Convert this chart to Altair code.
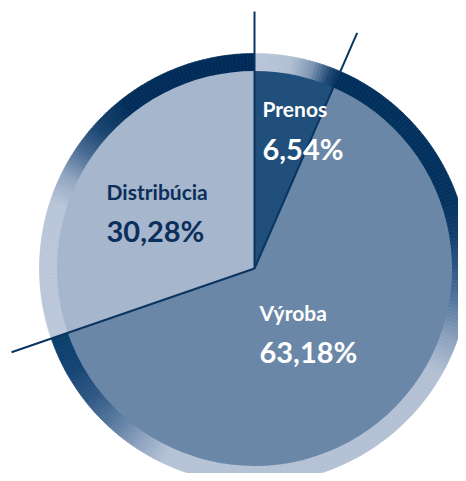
import math
import altair as alt
import pandas as pd

# ---- data ----
categories = ["Prenos", "Výroba", "Distribúcia"]
shares = [6.54, 63.18, 30.28]
value_labels = ["6,54%", "63,18%", "30,28%"]
order = [1, 2, 3]

# ---- styles ----
slice_colors = ["#1f4f7a", "#6a87a8", "#a6b6cc"]
text_colors = ["#ffffff", "#ffffff", "#0b2f5a"]
line_color = "#0a3560"

# ring colour stops (angle in degrees, clockwise from 12 o'clock)
ring_stop_deg = [0, 10, 16, 21, 23.4,
                 23.7, 70, 80, 90, 100, 110, 120, 205, 213, 222, 232, 242, 250.8,
                 251.2, 288, 296, 304, 312, 322, 360]
ring_stop_col = ["#bac6d9", "#b3c0d4", "#8097b5", "#1f4a76", "#0a3560",
                 "#002f5c", "#03325f", "#123e6b", "#2d5783", "#587aa0", "#8ea3bf", "#b3c0d4",
                 "#b6c3d6", "#90a5c0", "#5b7ca1", "#2d5783", "#134373", "#0a3f6c",
                 "#bcc8da", "#b9c5d8", "#92a7c1", "#4b6d96", "#1a4570", "#022d5a", "#002a57"]

W, H = 450, 465
CX, CY = 246.5, 260.5
R_PIE = 197.5
R_RING_IN, R_RING_OUT = 196, 215
R_LINE = 257

df = pd.DataFrame({"cat": categories, "share": shares, "lab": value_labels,
                   "order": order})

# ring segments aligned with the slice boundaries
bounds = [0]
for s in shares:
    bounds.append(bounds[-1] + s)
seg_rows = []
for i in range(len(shares)):
    a0 = bounds[i] * 3.6
    a1 = bounds[i + 1] * 3.6
    n = max(1, int(math.ceil((a1 - a0) / 1.0)))
    step = (a1 - a0) / n
    for k in range(n):
        s0 = a0 + k * step
        seg_rows.append({"a0": s0, "a1": s0 + step, "mid": s0 + step / 2})
ring_df = pd.DataFrame(seg_rows)

deg_scale = alt.Scale(domain=[0, 360])
ring_color_scale = alt.Scale(domain=ring_stop_deg, range=ring_stop_col, interpolate="rgb")

ring = alt.Chart(ring_df).mark_arc(radius=R_RING_OUT, radius2=R_RING_IN, strokeWidth=0.7).encode(
    theta=alt.Theta("a0:Q", scale=deg_scale, stack=False),
    theta2="a1:Q",
    color=alt.Color("mid:Q", scale=ring_color_scale, legend=None),
    stroke=alt.Stroke("mid:Q", scale=ring_color_scale, legend=None),
    x=alt.value(CX), y=alt.value(CY),
)

pie = alt.Chart(df).mark_arc(radius=R_PIE).encode(
    theta=alt.Theta("share:Q", stack=True),
    order=alt.Order("order:Q"),
    color=alt.Color("cat:N", scale=alt.Scale(domain=categories, range=slice_colors), legend=None),
    x=alt.value(CX), y=alt.value(CY),
)

pct_scale = alt.Scale(domain=[0, 100])

lines = alt.Chart(df).transform_window(
    cum="sum(share)", sort=[alt.SortField("order")]
).mark_arc(radius=R_LINE, radius2=0, fillOpacity=0, stroke=line_color, strokeWidth=2).encode(
    theta=alt.Theta("cum:Q", scale=pct_scale, stack=False),
    theta2="cum:Q",
    x=alt.value(CX), y=alt.value(CY),
)

# label placement: radius at slice mid-angle + offsets (style)
label_layout = {
    "Prenos": (140, -20.6, -14, 29),
    "Výroba": (85, -52.7, -10.4, 31.6),
    "Distribúcia": (110, -58.4, -5.1, 36.9),
}

text_layers = []
base_txt = alt.Chart(df).transform_window(
    cum="sum(share)", sort=[alt.SortField("order")]
).transform_calculate(mid="datum.cum - datum.share / 2")
for cat, tc in zip(categories, text_colors):
    r, dx, dy_n, dy_p = label_layout[cat]
    b = base_txt.transform_filter(alt.datum.cat == cat)
    name = b.mark_text(font="Lato", fontWeight="bold", fontSize=21, align="left",
                       baseline="alphabetic", radius=r, dx=dx, dy=dy_n, color=tc).encode(
        theta=alt.Theta("mid:Q", scale=pct_scale, stack=False),
        text="cat:N",
        x=alt.value(CX), y=alt.value(CY),
    )
    pct = b.mark_text(font="Lato", fontWeight="bold", fontSize=29, align="left",
                      baseline="alphabetic", radius=r, dx=dx, dy=dy_p, color=tc).encode(
        theta=alt.Theta("mid:Q", scale=pct_scale, stack=False),
        text="lab:N",
        x=alt.value(CX), y=alt.value(CY),
    )
    text_layers += [name, pct]

chart = alt.layer(ring, pie, lines, *text_layers).resolve_scale(
    theta="independent", color="independent", stroke="independent"
).properties(
    width=W, height=H, autosize=alt.AutoSizeParams(type="none"), padding=0,
    background="#ffffff",
).configure_view(stroke=None)

chart.save("out.html", embed_options={"renderer": "svg", "actions": False})
